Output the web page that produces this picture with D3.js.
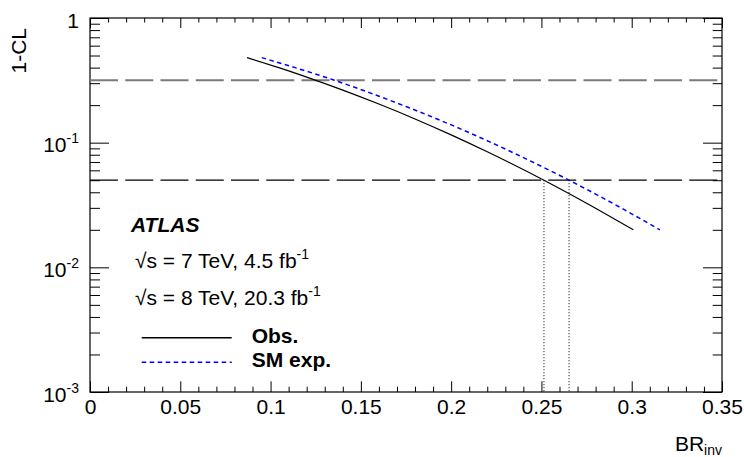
<!DOCTYPE html>
<html><head><meta charset="utf-8">
<script src="https://cdn.jsdelivr.net/npm/d3@7"></script>
<style>
html,body{margin:0;padding:0;background:#fff;}
svg text{font-family:"Liberation Sans",Arial,Helvetica,sans-serif;}
</style></head>
<body><svg id="c" width="744" height="457"></svg>
<script>
// ---- data ----
const obsBR = [0.0870, 0.105, 0.122, 0.140, 0.160, 0.180, 0.200, 0.220, 0.2514, 0.275, 0.3009];
const obsCL = [0.481, 0.398, 0.328, 0.264, 0.204, 0.155, 0.1155, 0.0845, 0.0500, 0.0327, 0.0200];
const expBR = [0.0951, 0.115, 0.135, 0.155, 0.175, 0.195, 0.215, 0.235, 0.2653, 0.290, 0.3156];
const expCL = [0.481, 0.394, 0.318, 0.251, 0.195, 0.149, 0.1117, 0.0822, 0.0500, 0.0323, 0.0200];
const clLevels = [0.3173, 0.05];            // horizontal reference lines
const limitBR = [0.2514, 0.2653];           // observed / expected limits
const xMajor = [0, 0.05, 0.1, 0.15, 0.2, 0.25, 0.3, 0.35];
const xMajorLabels = ["0", "0.05", "0.1", "0.15", "0.2", "0.25", "0.3", "0.35"];
const yMajor = [1, 0.1, 0.01, 0.001];
const yMajorLabels = [["1", ""], ["10", "-1"], ["10", "-2"], ["10", "-3"]];
const legendLabels = ["Obs.", "SM exp."];
const infoLines = [["\u221As = 7 TeV, 4.5 fb", "-1"], ["\u221As = 8 TeV, 20.3 fb", "-1"]];

// ---- layout ----
const L = 90, R = 722, T = 18, B = 392;
const svg = d3.select("#c");
const x = d3.scaleLinear().domain([0, 0.35]).range([L, R]);
const y = d3.scaleLog().domain([1e-3, 1]).range([B, T]);

const xMinor = d3.range(0, 36).map(i => i / 100).filter(v => !xMajor.some(m => Math.abs(m - v) < 1e-9));
const yMinor = [];
[0.001, 0.01, 0.1].forEach(d => { for (let k = 2; k <= 9; k++) yMinor.push(d * k); });

function strip(g) { g.select(".domain").remove(); g.selectAll("line").attr("stroke", "#000").attr("stroke-width", 1); }

// bottom axis
svg.append("g").attr("transform", `translate(0,${B})`)
  .call(d3.axisBottom(x).tickValues(xMinor).tickSize(-5.3).tickFormat("")).call(strip);
const gxb = svg.append("g").attr("transform", `translate(0,${B})`)
  .call(d3.axisBottom(x).tickValues(xMajor).tickSize(-10.7).tickPadding(7)
    .tickFormat((d, i) => xMajorLabels[i])).call(strip);
gxb.selectAll("text").attr("font-size", 21).attr("fill", "#000")
  .attr("font-family", "Liberation Sans, Arial, sans-serif");
// top axis
svg.append("g").attr("transform", `translate(0,${T})`)
  .call(d3.axisTop(x).tickValues(xMinor).tickSize(-4.5).tickFormat("")).call(strip);
svg.append("g").attr("transform", `translate(0,${T})`)
  .call(d3.axisTop(x).tickValues(xMajor).tickSize(-10).tickFormat("")).call(strip);
// left axis
svg.append("g").attr("transform", `translate(${L},0)`)
  .call(d3.axisLeft(y).tickValues(yMinor).tickSize(-10).tickFormat("")).call(strip);
svg.append("g").attr("transform", `translate(${L},0)`)
  .call(d3.axisLeft(y).tickValues(yMajor).tickSize(-19).tickFormat("")).call(strip);
// right axis
svg.append("g").attr("transform", `translate(${R},0)`)
  .call(d3.axisRight(y).tickValues(yMinor).tickSize(-9.3).tickFormat("")).call(strip);
svg.append("g").attr("transform", `translate(${R},0)`)
  .call(d3.axisRight(y).tickValues(yMajor).tickSize(-19).tickFormat("")).call(strip);

// y labels with superscripts
yMajor.forEach((v, i) => {
  const t = svg.append("text").attr("x", 79).attr("y", y(v) + 9.5)
    .attr("text-anchor", "end").attr("font-size", 21).attr("fill", "#000");
  t.append("tspan").text(yMajorLabels[i][0]);
  if (yMajorLabels[i][1]) t.append("tspan").attr("dy", -9).attr("font-size", 14).text(yMajorLabels[i][1]);
});

// frame
svg.append("rect").attr("x", L).attr("y", T).attr("width", R - L).attr("height", B - T)
  .attr("fill", "none").attr("stroke", "#000").attr("stroke-width", 1.2);

// axis titles
svg.append("text").attr("transform", `translate(26,28) rotate(-90)`)
  .attr("text-anchor", "end").attr("font-size", 21).text("1-CL");
const xt = svg.append("text").attr("x", R).attr("y", 451).attr("text-anchor", "end").attr("font-size", 21);
xt.append("tspan").text("BR");
xt.append("tspan").attr("dy", 4).attr("font-size", 14).text("inv");

// horizontal reference lines
svg.append("line").attr("x1", L).attr("x2", R).attr("y1", y(clLevels[0])).attr("y2", y(clLevels[0]))
  .attr("stroke", "#7a7a7a").attr("stroke-width", 2).attr("stroke-dasharray", "28,7.25");
svg.append("line").attr("x1", L).attr("x2", R).attr("y1", y(clLevels[1])).attr("y2", y(clLevels[1]))
  .attr("stroke", "#000").attr("stroke-width", 1.2).attr("stroke-dasharray", "28,7.25");

// vertical limit lines
limitBR.forEach((b, i) => {
  svg.append("line").attr("x1", x(b)).attr("x2", x(b)).attr("y1", y(clLevels[1])).attr("y2", B)
    .attr("stroke", "#000").attr("stroke-width", 1).attr("stroke-dasharray", "1,2");
});

// curves
const line = d3.line().x(d => x(d[0])).y(d => y(d[1])).curve(d3.curveMonotoneX);
svg.append("path").datum(obsBR.map((b, i) => [b, obsCL[i]])).attr("d", line)
  .attr("fill", "none").attr("stroke", "#000").attr("stroke-width", 1.2);
svg.append("path").datum(expBR.map((b, i) => [b, expCL[i]])).attr("d", line)
  .attr("fill", "none").attr("stroke", "#0000ff").attr("stroke-width", 1.5).attr("stroke-dasharray", "4.5,3.5");

// text block
svg.append("text").attr("x", 131).attr("y", 231.5).attr("font-size", 21)
  .attr("font-weight", "bold").attr("font-style", "italic").text("ATLAS");
infoLines.forEach((ln, i) => {
  const t = svg.append("text").attr("x", 135).attr("y", 268 + i * 37).attr("font-size", 21);
  t.append("tspan").text(ln[0]);
  t.append("tspan").attr("dy", -9).attr("font-size", 14).text(ln[1]);
});

// legend
const legY = [337.7, 362.3];
svg.append("line").attr("x1", 141.7).attr("x2", 231.7).attr("y1", legY[0]).attr("y2", legY[0])
  .attr("stroke", "#000").attr("stroke-width", 1.5);
svg.append("line").attr("x1", 141.7).attr("x2", 231.7).attr("y1", legY[1]).attr("y2", legY[1])
  .attr("stroke", "#0000ff").attr("stroke-width", 1.5).attr("stroke-dasharray", "4.5,3.5");
legendLabels.forEach((s, i) => {
  svg.append("text").attr("x", 251.7).attr("y", legY[i] + 5).attr("font-size", 21)
    .attr("font-weight", "bold").text(s);
});
</script></body></html>
